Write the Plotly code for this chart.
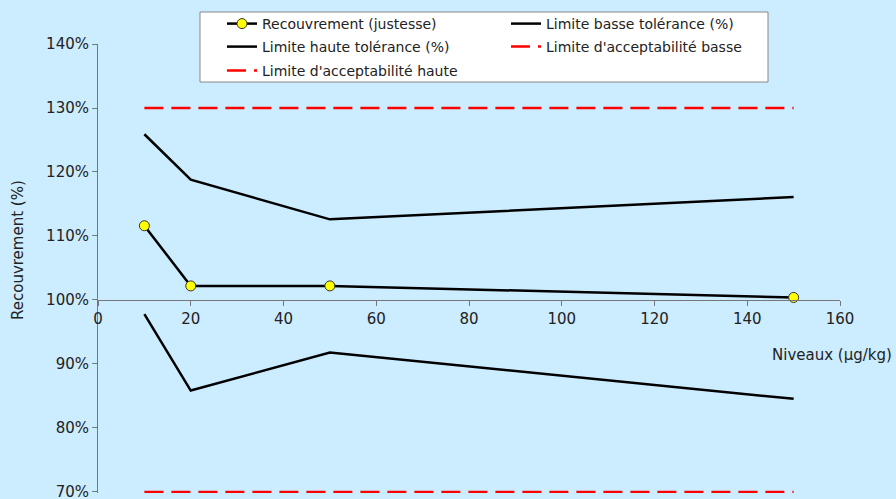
import plotly.graph_objects as go

# Data
niveaux = [10, 20, 50, 150]
recouvrement = [111.6, 102.2, 102.2, 100.4]
lim_basse_tol = [97.8, 85.85, 91.8, 84.55]
lim_haute_tol = [125.9, 118.8, 112.6, 116.1]
acc_basse = [70, 70, 70, 70]
acc_haute = [130, 130, 130, 130]
y_ticks = [70, 80, 90, 100, 110, 120, 130, 140]
x_ticks = [0, 20, 40, 60, 80, 100, 120, 140, 160]

W, H = 896, 499
L, R, T, B = 98, 56, 44, 6
PW, PH = W - L - R, H - T - B
Y_RANGE = [69.84, 140]

def px_x(p):
    return (p - L) / PW

def px_y(p):
    return (H - B - p) / PH

FONT = "DejaVu Sans, Verdana, sans-serif"
TXT = "#222222"
BG = "#CCECFF"

fig = go.Figure()
fig.add_trace(go.Scatter(x=niveaux, y=lim_haute_tol, mode="lines", name="Limite haute tolérance (%)",
                         line=dict(color="black", width=2.5), legend="legend3", cliponaxis=False))
fig.add_trace(go.Scatter(x=niveaux, y=lim_basse_tol, mode="lines", name="Limite basse tolérance (%)",
                         line=dict(color="black", width=2.5), legend="legend2", cliponaxis=False))
fig.add_trace(go.Scatter(x=niveaux, y=acc_basse, mode="lines", name="Limite d'acceptabilité basse",
                         line=dict(color="#FF0000", width=2.5, dash="19px,8px"), legend="legend4",
                         cliponaxis=False))
fig.add_trace(go.Scatter(x=niveaux, y=acc_haute, mode="lines", name="Limite d'acceptabilité haute",
                         line=dict(color="#FF0000", width=2.5, dash="19px,8px"), legend="legend5",
                         cliponaxis=False))
fig.add_trace(go.Scatter(x=niveaux, y=recouvrement, mode="lines+markers", name="Recouvrement (justesse)",
                         line=dict(color="black", width=2.5),
                         marker=dict(symbol="circle", size=10, color="#FFFF00",
                                     line=dict(color="#333333", width=1)),
                         legend="legend", cliponaxis=False))

leg_common = dict(bgcolor="rgba(0,0,0,0)", borderwidth=0, font=dict(family=FONT, size=14, color=TXT),
                  xanchor="left", yanchor="middle", itemwidth=30)
col1 = px_x(222)
col2 = px_x(506)
r1, r2, r3 = px_y(24), px_y(47), px_y(71)

fig.update_layout(
    width=W, height=H,
    margin=dict(l=L, r=R, t=T, b=B, autoexpand=False),
    paper_bgcolor=BG, plot_bgcolor=BG,
    font=dict(family=FONT, size=15, color=TXT),
    showlegend=True,
    legend=dict(x=col1, y=r1, **leg_common),
    legend2=dict(x=col2, y=r1, **leg_common),
    legend3=dict(x=col1, y=r2, **leg_common),
    legend4=dict(x=col2, y=r2, **leg_common),
    legend5=dict(x=col1, y=r3, **leg_common),
    xaxis=dict(range=[0, 160], tickvals=x_ticks, ticktext=[str(v) for v in x_ticks],
               anchor="free", position=(100 - Y_RANGE[0]) / (Y_RANGE[1] - Y_RANGE[0]), automargin=False,
               showline=True, linecolor="#777777", linewidth=1,
               ticks="outside", ticklen=5, tickcolor="#777777",
               showgrid=False, zeroline=False, ticklabeloverflow="allow",
               tickfont=dict(family=FONT, size=15, color=TXT)),
    yaxis=dict(range=Y_RANGE, tickvals=y_ticks, ticktext=[f"{v}%" for v in y_ticks],
               automargin=False,
               showline=True, linecolor="#777777", linewidth=1,
               ticks="outside", ticklen=5, tickcolor="#777777",
               showgrid=False, zeroline=False, ticklabeloverflow="allow",
               tickfont=dict(family=FONT, size=15, color=TXT)),
    shapes=[dict(type="rect", xref="paper", yref="paper",
                 x0=px_x(200), x1=px_x(768), y0=px_y(82), y1=px_y(12),
                 fillcolor="white", line=dict(color="#888888", width=1), layer="above")],
    annotations=[
        dict(text="Niveaux (µg/kg)", xref="paper", yref="paper", x=px_x(894), y=px_y(355),
             xanchor="right", yanchor="middle", showarrow=False,
             font=dict(family=FONT, size=15, color=TXT)),
        dict(text="Recouvrement (%)", xref="paper", yref="paper", x=px_x(18), y=px_y(250),
             xanchor="center", yanchor="middle", showarrow=False, textangle=-90,
             font=dict(family=FONT, size=15, color=TXT)),
    ],
)

post = ("document.body.style.margin='0';document.body.style.padding='0';"
        "document.body.style.overflow='hidden';"
        "document.documentElement.style.background='%s';" % BG)
fig.write_html("out.html", post_script=post, config={"displayModeBar": False})
